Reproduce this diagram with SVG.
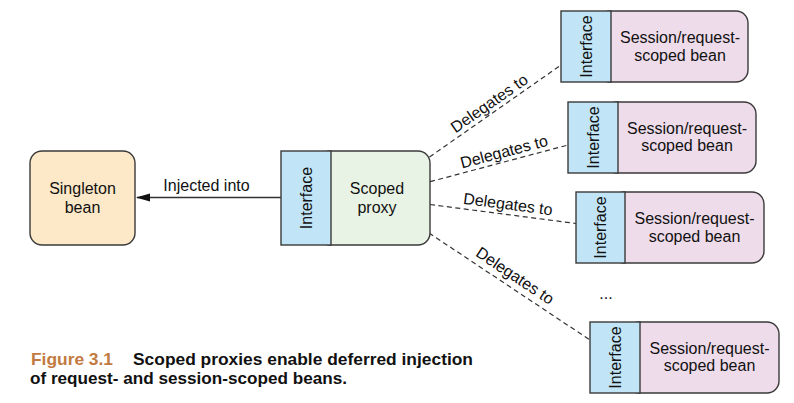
<svg xmlns="http://www.w3.org/2000/svg" width="794" height="403" viewBox="0 0 794 403">
  <defs>
    <style>
      .lbl { font-family: "Liberation Sans", Arial, sans-serif; font-size: 16px; fill: #111; }
      .mid { text-anchor: middle; }
      .box { stroke: #3a3a3a; stroke-width: 1.4; }
      .iface { fill: #c1e5f6; }
      .bean { fill: #eedcea; }
      .proxy { fill: #e9f3e5; }
      .single { fill: #fde8c8; }
      .dash { fill: none; stroke: #333; stroke-width: 1.2; stroke-dasharray: 5 3.5; }
      .solid { fill: none; stroke: #333; stroke-width: 1.4; }
      .cap { font-family: "Liberation Sans", Arial, sans-serif; font-size: 17px; font-weight: bold; fill: #111; }
      .fig { fill: #c27a40; }
    </style>
    <marker id="arrow" viewBox="0 0 14 10" refX="13" refY="5" markerWidth="14" markerHeight="10" markerUnits="userSpaceOnUse" orient="auto">
      <path d="M0,1 L14,5 L0,9 Z" fill="#111"/>
    </marker>
  </defs>

  <rect width="794" height="403" fill="#ffffff"/>

  <g id="connectors">
    <line class="solid" x1="281" y1="197.5" x2="137" y2="197.5" marker-end="url(#arrow)"/>
    <line class="dash" x1="429.5" y1="157" x2="561" y2="65"/>
    <line class="dash" x1="430" y1="181.7" x2="568" y2="145"/>
    <line class="dash" x1="430" y1="204.5" x2="576" y2="223.5"/>
    <line class="dash" x1="429" y1="233" x2="590" y2="340"/>
    <text class="lbl mid" x="206.5" y="191">Injected into</text>
    <text class="lbl mid" transform="translate(492.4 107.8) rotate(-34.8)">Delegates to</text>
    <text class="lbl mid" transform="translate(505.4 157) rotate(-14.8)">Delegates to</text>
    <text class="lbl mid" transform="translate(507.3 209.5) rotate(7.5)">Delegates to</text>
    <text class="lbl mid" transform="translate(512 280.3) rotate(33.8)">Delegates to</text>
  </g>

  <g id="singleton">
    <rect class="box single" x="30" y="151" width="105" height="94" rx="12"/>
    <text class="lbl mid" x="82.5" y="193.5">Singleton</text>
    <text class="lbl mid" x="82.5" y="213">bean</text>
  </g>

  <g id="scoped-proxy">
    <rect class="box proxy" x="318" y="151" width="112" height="94" rx="12"/>
    <rect class="box iface" x="281" y="151" width="50" height="94"/>
    <text class="lbl mid" x="306" y="198" dominant-baseline="central" transform="rotate(-90 306 198)">Interface</text>
    <text class="lbl mid" x="377" y="193.5">Scoped</text>
    <text class="lbl mid" x="377" y="212.5">proxy</text>
  </g>

  <g id="bean-1">
    <rect class="box bean" x="598" y="11" width="150" height="71" rx="12"/>
    <rect class="box iface" x="561" y="11" width="50" height="71"/>
    <text class="lbl mid" x="586" y="46.5" dominant-baseline="central" transform="rotate(-90 586 46.5)">Interface</text>
    <text class="lbl mid" x="680" y="42.5">Session/request-</text>
    <text class="lbl mid" x="680" y="61">scoped bean</text>
  </g>

  <g id="bean-2">
    <rect class="box bean" x="605" y="102" width="151" height="71" rx="12"/>
    <rect class="box iface" x="568" y="102" width="50" height="71"/>
    <text class="lbl mid" x="593" y="137.5" dominant-baseline="central" transform="rotate(-90 593 137.5)">Interface</text>
    <text class="lbl mid" x="687" y="133.5">Session/request-</text>
    <text class="lbl mid" x="687" y="151">scoped bean</text>
  </g>

  <g id="bean-3">
    <rect class="box bean" x="612" y="192" width="152" height="71" rx="12"/>
    <rect class="box iface" x="576" y="192" width="49" height="71"/>
    <text class="lbl mid" x="600.5" y="227.5" dominant-baseline="central" transform="rotate(-90 600.5 227.5)">Interface</text>
    <text class="lbl mid" x="694.5" y="223.5">Session/request-</text>
    <text class="lbl mid" x="694.5" y="241.5">scoped bean</text>
  </g>

  <text class="lbl mid" x="606" y="299">...</text>

  <g id="bean-4">
    <rect class="box bean" x="627" y="322" width="152" height="71" rx="12"/>
    <rect class="box iface" x="590" y="322" width="50" height="71"/>
    <text class="lbl mid" x="615" y="357.5" dominant-baseline="central" transform="rotate(-90 615 357.5)">Interface</text>
    <text class="lbl mid" x="709.5" y="354">Session/request-</text>
    <text class="lbl mid" x="709.5" y="371">scoped bean</text>
  </g>

  <g id="caption">
    <text class="cap fig" x="31" y="365" textLength="82" lengthAdjust="spacingAndGlyphs">Figure 3.1</text>
    <text class="cap" x="133" y="365" textLength="340" lengthAdjust="spacingAndGlyphs">Scoped proxies enable deferred injection</text>
    <text class="cap" x="30" y="384" textLength="317" lengthAdjust="spacingAndGlyphs">of request- and session-scoped beans.</text>
  </g>
</svg>
